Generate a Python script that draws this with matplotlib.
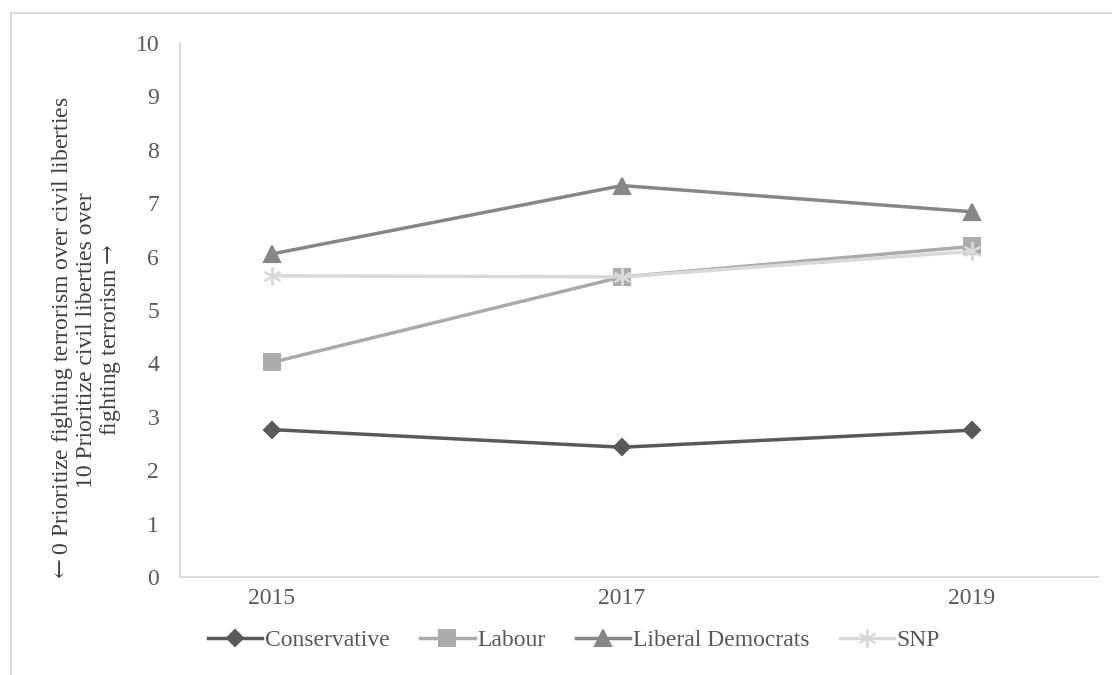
import numpy as np
import matplotlib.pyplot as plt
from matplotlib.lines import Line2D

plt.rcParams['font.family'] = ['Liberation Serif', 'DejaVu Serif']
plt.rcParams['mathtext.fontset'] = 'dejavuserif'

years = ['2015', '2017', '2019']
conservative = [2.76, 2.43, 2.75]
labour = [4.02, 5.62, 6.19]
lib_dems = [6.05, 7.33, 6.84]
snp = [5.64, 5.62, 6.10]

series = [
    ('Conservative', conservative, '#595959', 'D', 8.5),
    ('Labour', labour, '#ababab', 's', 11),
    ('Liberal Democrats', lib_dems, '#878787', '^', 12),
    ('SNP', snp, '#d9d9d9', (6, 2, 0), 13),
]

fig = plt.figure(figsize=(11.12, 6.75), dpi=100)
ax = fig.add_axes([180 / 1112, 1 - 577 / 675, (1098 - 180) / 1112, (577 - 43) / 675])

# light frame round the chart area
fig.add_artist(Line2D([11 / 1112, 11 / 1112], [0, 1 - 13 / 675], color='#d9d9d9', lw=1.5))
fig.add_artist(Line2D([11 / 1112, 1], [1 - 13 / 675, 1 - 13 / 675], color='#d9d9d9', lw=1.5))

x = np.arange(len(years))
for name, vals, col, mk, ms in series:
    ax.plot(x, vals, color=col, lw=2.5, marker=mk, ms=ms, mec=col, mfc=col,
            mew=1.5, label=name)

ax.set_xlim(-(272 - 180) / 350, 2 + (1098 - 972) / 350)
ax.set_ylim(0, 10)
ax.set_yticks(range(0, 11))
ax.set_xticks(x)
ax.set_xticklabels(years)

for s in ['top', 'right']:
    ax.spines[s].set_visible(False)
for s in ['left', 'bottom']:
    ax.spines[s].set_color('#d9d9d9')
    ax.spines[s].set_linewidth(1.3)
ax.tick_params(length=0, labelsize=17, colors='#595959')
ax.tick_params(axis='y', pad=15)
ax.tick_params(axis='x', pad=8)

ax.set_ylabel('$\\leftarrow$0 Prioritize fighting terrorism over civil liberties\n'
              '10 Prioritize civil liberties over\nfighting terrorism$\\rightarrow$',
              fontsize=17, color='#404040', linespacing=1.05)
ax.yaxis.set_label_coords(-57 / 918, 0.444)

ax.legend(loc='center', bbox_to_anchor=((574 - 180) / 918, -0.118), ncol=4,
          frameon=False, fontsize=17, labelcolor='#595959', handlelength=2.3,
          handletextpad=0.1, columnspacing=1.3)

fig.savefig('out.png', dpi=100)
